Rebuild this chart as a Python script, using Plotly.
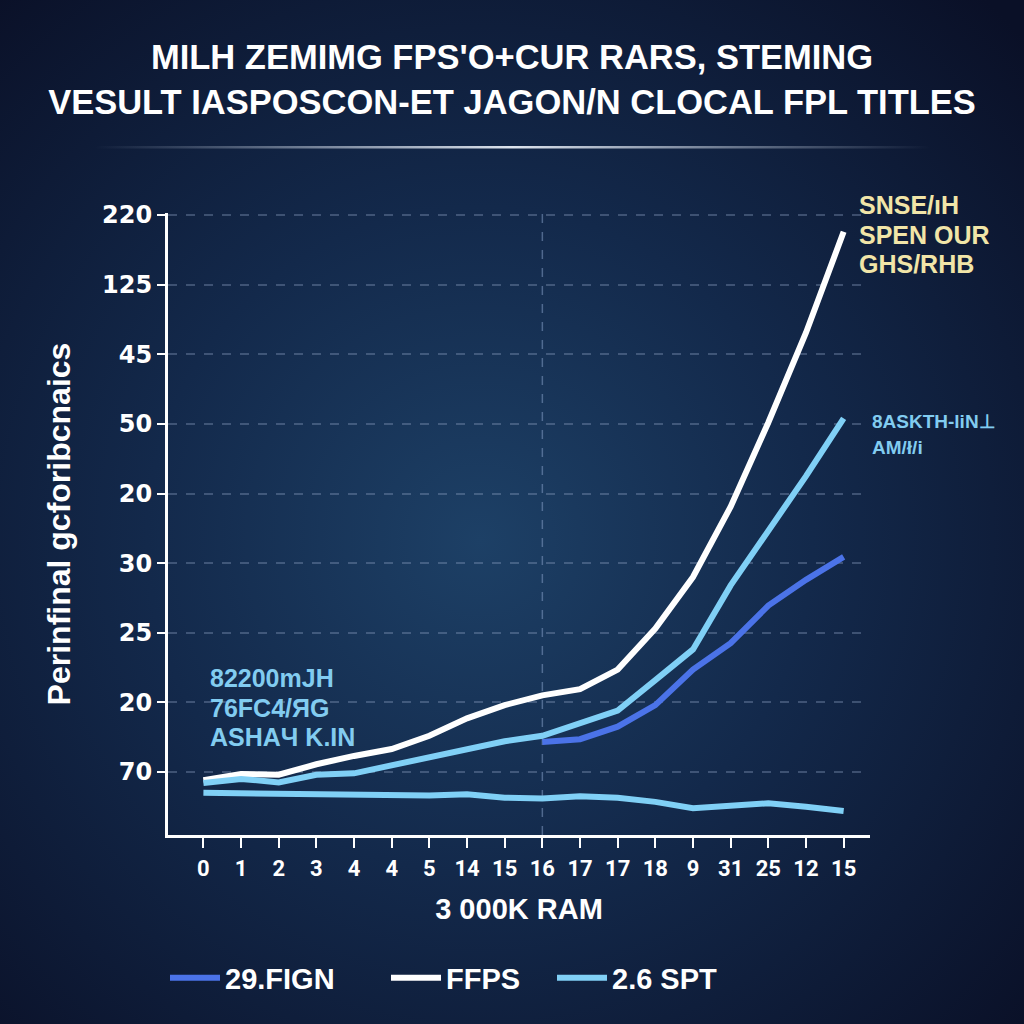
import base64
import plotly.graph_objects as go

# ---------------- data ----------------
x_labels = ["0", "1", "2", "3", "4", "4", "5", "14", "15", "16", "17", "17", "18", "9", "31", "25", "12", "15"]
y_labels = ["70", "20", "25", "30", "20", "50", "45", "125", "220"]  # bottom -> top

# values expressed on the (evenly spaced) y tick scale: 0 = "70" ... 8 = "220"
fign = [None, None, None, None, None, None, None, None, None,
        0.43, 0.47, 0.65, 0.96, 1.47, 1.85, 2.39, 2.76, 3.09]
ffps = [-0.12, -0.03, -0.04, 0.11, 0.23, 0.33, 0.52, 0.77, 0.96,
        1.10, 1.19, 1.47, 2.06, 2.80, 3.81, 5.02, 6.31, 7.76]
spt = [-0.16, -0.10, -0.15, -0.04, -0.02, 0.10, 0.20, 0.34, 0.44,
       0.52, 0.70, 0.88, 1.32, 1.76, 2.68, 3.45, 4.25, 5.08]
spt_base = [-0.30, -0.31, -0.32, -0.32, -0.33, -0.34, -0.34, -0.32, -0.37,
            -0.38, -0.35, -0.37, -0.43, -0.52, -0.49, -0.45, -0.50, -0.56]

series_names = ["29.FIGN", "FFPS", "2.6 SPT"]
title_lines = ["MILH ZEMIMG FPS'O+CUR RARS, STEMING",
               "VESULT IASPOSCON-ET JAGON/N CLOCAL FPL TITLES"]
y_title = "Perinfinal gcforibcnaics"
x_title = "3 000K RAM"
note_yellow = ["SNSE/ıH", "SPEN OUR", "GHS/RHB"]
note_blue_right = ["8ASKTH-liN⊥", "AM/ł/i"]
note_blue_left = ["82200mJH", "76FC4/ЯG", "ASHAЧ K.IN"]

# ---------------- style ----------------
W = H = 1024
L, R, T, B = 168, 154, 213, 189
PW, PH = W - L - R, H - T - B

BLUE = "#4B73E8"
WHITE = "#FFFFFF"
LIGHT = "#80D0F6"
YELLOW = "#F1E5A8"
LABEL_BLUE = "#82CCF0"
FONT = "Liberation Sans, Arial, sans-serif"

xs = list(range(len(x_labels)))


def px_x(px):
    return (px - L) / PW


def px_y(py):
    return (H - B - py) / PH


svg = f'''<svg xmlns="http://www.w3.org/2000/svg" width="{W}" height="{H}" viewBox="0 0 {W} {H}">
<defs>
<radialGradient id="g" cx="480" cy="540" r="740" gradientUnits="userSpaceOnUse">
<stop offset="0" stop-color="#1d4066"/>
<stop offset="0.45" stop-color="#13294b"/>
<stop offset="1" stop-color="#0a1027"/>
</radialGradient>
<linearGradient id="u" x1="95" y1="0" x2="930" y2="0" gradientUnits="userSpaceOnUse">
<stop offset="0" stop-color="#c8d4e6" stop-opacity="0"/>
<stop offset="0.5" stop-color="#e8eef7" stop-opacity="0.95"/>
<stop offset="1" stop-color="#c8d4e6" stop-opacity="0"/>
</linearGradient>
</defs>
<rect width="{W}" height="{H}" fill="url(#g)"/>
<rect x="95" y="146" width="835" height="2.5" fill="url(#u)"/>
</svg>'''
bg_src = "data:image/svg+xml;base64," + base64.b64encode(svg.encode()).decode()

fig = go.Figure()
fig.add_trace(go.Scatter(x=xs, y=fign, name=series_names[0], mode="lines", legend="legend",
                         line=dict(color=BLUE, width=6)))
fig.add_trace(go.Scatter(x=xs, y=ffps, name=series_names[1], mode="lines", legend="legend2",
                         line=dict(color=WHITE, width=6)))
fig.add_trace(go.Scatter(x=xs, y=spt, name=series_names[2], mode="lines", legend="legend3",
                         line=dict(color=LIGHT, width=6)))
fig.add_trace(go.Scatter(x=xs, y=spt_base, name=series_names[2], mode="lines",
                         showlegend=False, line=dict(color=LIGHT, width=6)))

annotations = []


def add_lines(lines, x_px, y_first, step, size, color):
    for i, t in enumerate(lines):
        annotations.append(dict(
            text=t, xref="paper", yref="paper", x=px_x(x_px), y=px_y(y_first + i * step),
            xanchor="left", yanchor="middle", showarrow=False,
            font=dict(family=FONT, size=size, color=color, weight="bold")))


add_lines(note_yellow, 857, 205, 29.5, 25, YELLOW)
add_lines(note_blue_right, 870, 421, 26, 19, LABEL_BLUE)
add_lines(note_blue_left, 208, 678, 29.5, 25, LABEL_BLUE)

legend_font = dict(family=FONT, size=29, color="#FFFFFF", weight="bold")


def legend_at(x_px):
    return dict(orientation="h", xref="container", yref="container",
                x=(x_px - 6) / W, y=1 - 978 / H, xanchor="left", yanchor="middle",
                bgcolor="rgba(0,0,0,0)", itemwidth=50, font=legend_font)


fig.update_layout(
    width=W, height=H, autosize=False,
    margin=dict(l=L, r=R, t=T, b=B),
    paper_bgcolor="#0d1a36",
    plot_bgcolor="rgba(0,0,0,0)",
    images=[dict(source=bg_src, xref="paper", yref="paper",
                 x=-L / PW, y=1 + T / PH, sizex=W / PW, sizey=H / PH,
                 sizing="stretch", xanchor="left", yanchor="top", layer="below")],
    title=dict(text="<br>".join(title_lines), x=0.5, xref="container", xanchor="center",
               y=1 - 69 / H, yref="container", yanchor="middle",
               font=dict(family=FONT, size=34.5, color="#FFFFFF", weight="bold")),
    xaxis=dict(
        range=[-0.94, 17.7], tickmode="array", tickvals=xs, ticktext=x_labels,
        showgrid=False, zeroline=False,
        showline=True, linecolor="#FFFFFF", linewidth=3,
        ticks="outside", ticklen=10, tickwidth=2, tickcolor="#FFFFFF",
        ticklabelstandoff=2,
        tickfont=dict(family="Roboto, sans-serif", size=22, color="#FFFFFF", weight="bold"),
        title=dict(text=x_title, standoff=19,
                   font=dict(family=FONT, size=29, color="#FFFFFF", weight="bold")),
    ),
    yaxis=dict(
        range=[-0.906, 8.03], tickmode="array", tickvals=list(range(len(y_labels))),
        ticktext=y_labels,
        showgrid=True, gridcolor="rgba(140,160,195,0.36)", gridwidth=1.5, griddash="dash",
        zeroline=False,
        showline=True, linecolor="#FFFFFF", linewidth=3,
        ticks="outside", ticklen=8, tickwidth=2, tickcolor="#FFFFFF",
        tickfont=dict(family="DejaVu Sans, sans-serif", size=24, color="#FFFFFF", weight="bold"),
        title=dict(text=y_title, standoff=22,
                   font=dict(family=FONT, size=32, color="#FFFFFF", weight="bold")),
    ),
    shapes=[dict(type="line", xref="x", yref="paper", x0=9, x1=9, y0=0, y1=1,
                 line=dict(color="rgba(130,155,195,0.55)", width=1.5, dash="dash"),
                 layer="below")],
    annotations=annotations,
    showlegend=True,
    legend=legend_at(171),
    legend2=legend_at(392),
    legend3=legend_at(558),
)

fig.write_html("out.html", config={"displayModeBar": False},
               post_script="document.body.style.margin='0';document.body.style.overflow='hidden';")
